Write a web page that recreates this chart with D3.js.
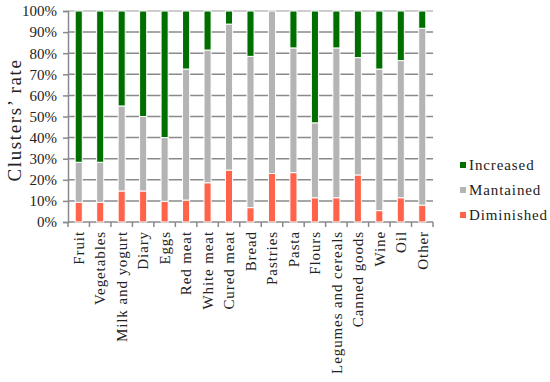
<!DOCTYPE html>
<html>
<head>
<meta charset="utf-8">
<script src="https://cdn.jsdelivr.net/npm/d3@7"></script>
<style>
  body { margin: 0; background: #fff; }
  text { font-family: "Liberation Serif", serif; fill: #222; }
</style>
</head>
<body>
<script>
const categories = ['Fruit', 'Vegetables', 'Milk and yogurt', 'Diary', 'Eggs', 'Red meat',
  'White meat', 'Cured meat', 'Bread', 'Pastries', 'Pasta', 'Flours',
  'Legumes and cereals', 'Canned goods', 'Wine', 'Oil', 'Other'];

// percentages per category
const diminished = [9.3, 9.3, 14.7, 14.7, 9.8, 10.4, 18.6, 24.6, 6.8, 23, 23.4, 11.5, 11.5, 22.3, 5.4, 11.5, 8];
const mantained = [19, 19, 40.3, 35.3, 30.2, 62.1, 62.9, 69.2, 71.7, 77, 59.1, 35.5, 71, 55.6, 67.1, 65, 83.8];
const increased = [71.7, 71.7, 45, 50, 60, 27.5, 18.5, 6.2, 21.5, 0, 17.5, 53, 17.5, 22.1, 27.5, 23.5, 8.2];

const yTicks = [0, 10, 20, 30, 40, 50, 60, 70, 80, 90, 100];
const seriesNames = ['Diminished', 'Mantained', 'Increased'];
const colors = { Diminished: '#ff634a', Mantained: '#b4b4b4', Increased: '#006f00' };

const width = 550;
const height = 382;
const margin = { top: 11, right: 117, bottom: 160, left: 68 };

const rows = categories.map((c, i) => ({
  cat: c, Diminished: diminished[i], Mantained: mantained[i], Increased: increased[i]
}));

const x = d3.scaleBand()
  .domain(categories)
  .range([margin.left, width - margin.right])
  .paddingInner(0.67)
  .paddingOuter(0.335);

const y = d3.scaleLinear()
  .domain([0, 100])
  .range([height - margin.bottom, margin.top]);

const svg = d3.select('body').append('svg')
  .attr('width', width)
  .attr('height', height);

// gridlines
svg.append('g')
  .selectAll('line')
  .data(yTicks.slice(1))
  .join('line')
  .attr('x1', margin.left)
  .attr('x2', width - margin.right)
  .attr('y1', d => y(d))
  .attr('y2', d => y(d))
  .attr('stroke', d => d === 100 ? '#bdbdbd' : '#8a8a8a')
  .attr('stroke-width', 1.5);

// y axis
const yAxis = g => g
  .attr('transform', `translate(${margin.left},0)`)
  .call(d3.axisLeft(y).tickValues(yTicks).tickFormat(d => d + '%').tickSize(5).tickPadding(6))
  .call(g => g.select('.domain').attr('stroke', '#8a8a8a').attr('stroke-width', 1.5))
  .call(g => g.selectAll('.tick line').attr('stroke', '#8a8a8a').attr('stroke-width', 1.5))
  .call(g => g.selectAll('.tick text')
    .attr('font-family', '"Liberation Serif", serif')
    .attr('font-size', 15)
    .attr('fill', '#222'));

svg.append('g').call(yAxis);

// x axis baseline and ticks at band boundaries
const xAx = svg.append('g');
xAx.append('line')
  .attr('x1', margin.left).attr('x2', width - margin.right)
  .attr('y1', y(0)).attr('y2', y(0))
  .attr('stroke', '#8a8a8a').attr('stroke-width', 1.5);
xAx.selectAll('line.tk')
  .data(d3.range(categories.length + 1))
  .join('line')
  .attr('class', 'tk')
  .attr('x1', i => margin.left + i * x.step())
  .attr('x2', i => margin.left + i * x.step())
  .attr('y1', y(0)).attr('y2', y(0) + 5)
  .attr('stroke', '#8a8a8a').attr('stroke-width', 1.5);

// stacked bars
const stack = d3.stack().keys(seriesNames)(rows);

svg.append('g')
  .selectAll('g')
  .data(stack)
  .join('g')
  .attr('fill', d => colors[d.key])
  .selectAll('rect')
  .data(d => d.filter(s => s[1] - s[0] > 0))
  .join('rect')
  .attr('x', d => x(d.data.cat))
  .attr('width', x.bandwidth())
  .attr('y', d => y(d[1]))
  .attr('height', d => y(d[0]) - y(d[1]))
  .attr('stroke', '#fff')
  .attr('stroke-width', 1);

// category labels
svg.append('g')
  .selectAll('text')
  .data(categories)
  .join('text')
  .attr('transform', d => `translate(${x(d) + x.bandwidth() / 2},${y(0) + 9}) rotate(-90)`)
  .attr('text-anchor', 'end')
  .attr('dy', '0.35em')
  .attr('font-size', 15)
  .attr('letter-spacing', 0.9)
  .text(d => d);

// y title
svg.append('text')
  .attr('transform', `translate(14,120) rotate(-90)`)
  .attr('text-anchor', 'middle')
  .attr('dy', '0.35em')
  .attr('font-size', 19)
  .attr('letter-spacing', 1.6)
  .text('Clusters’ rate');

// legend
const legend = svg.append('g')
  .selectAll('g')
  .data(seriesNames.slice().reverse())
  .join('g')
  .attr('transform', (d, i) => `translate(460,${165 + i * 25})`);

legend.append('rect')
  .attr('x', 0).attr('y', -3)
  .attr('width', 6).attr('height', 6)
  .attr('fill', d => colors[d]);

legend.append('text')
  .attr('x', 9)
  .attr('dy', '0.35em')
  .attr('font-size', 15)
  .attr('letter-spacing', 0.9)
  .text(d => d);
</script>
</body>
</html>
